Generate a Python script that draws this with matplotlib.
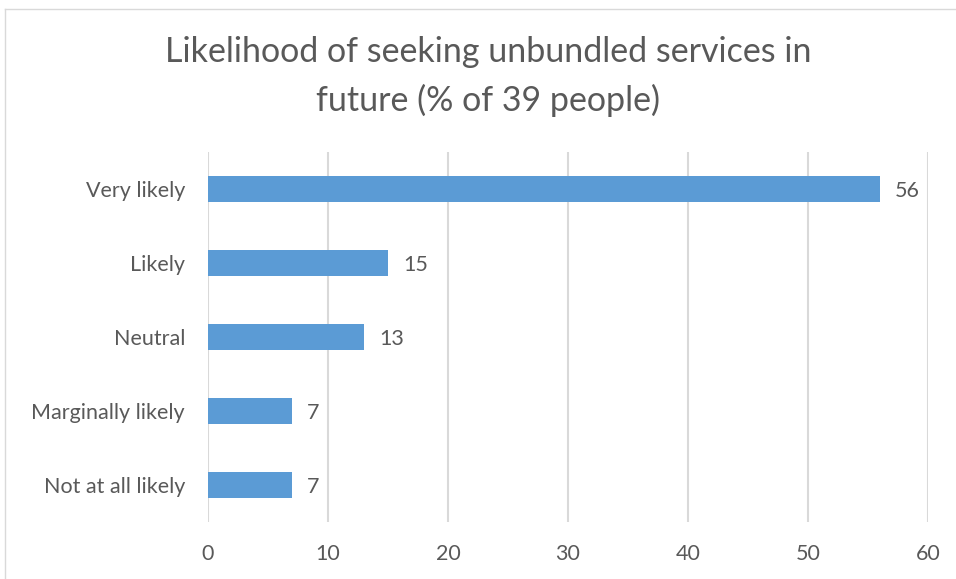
import matplotlib
matplotlib.use("Agg")
import matplotlib.pyplot as plt
from matplotlib.lines import Line2D

categories = ["Very likely", "Likely", "Neutral", "Marginally likely", "Not at all likely"]
values = [56, 15, 13, 7, 7]
xticks = [0, 10, 20, 30, 40, 50, 60]

plt.rcParams['font.family'] = ['Lato', 'DejaVu Sans']
W, H = 956, 579
fig = plt.figure(figsize=(W/100, H/100), dpi=100)
txt = '#595959'

ax = fig.add_axes([208/W, 1-522/H, (928-208)/W, (522-152)/H])
ypos = list(range(len(categories)))
ax.barh(ypos, values, height=0.34, color='#5B9BD5', zorder=3)
ax.set_ylim(len(categories)-0.5, -0.5)
ax.set_xlim(0, 60)
ax.set_yticks(ypos)
ax.set_yticklabels(categories, fontsize=15.5, color=txt)
ax.set_xticks(xticks)
ax.set_xticklabels([str(t) for t in xticks], fontsize=15.5, color=txt)
ax.tick_params(axis='both', length=0)
ax.tick_params(axis='y', pad=16.5)
ax.tick_params(axis='x', pad=16)
ax.grid(axis='x', color='#D9D9D9', linewidth=1.5, zorder=0)
for s in ax.spines.values():
    s.set_visible(False)
for y, v in zip(ypos, values):
    ax.annotate(str(v), (v, y), xytext=(11, 0), textcoords='offset points',
                va='center_baseline', ha='left', fontsize=15.5, color=txt)

fig.text(488/W, 1-52/H, "Likelihood of seeking unbundled services in", ha='center', va='center',
         fontsize=24.5, color=txt)
fig.text(488/W, 1-100/H, "future (% of 39 people)", ha='center', va='center',
         fontsize=24.5, color=txt)

fig.add_artist(Line2D([5/W, 1], [1-9/H, 1-9/H], transform=fig.transFigure, color='#D9D9D9', lw=1))
fig.add_artist(Line2D([5/W, 5/W], [1-9/H, 0], transform=fig.transFigure, color='#D9D9D9', lw=1))

fig.savefig("out.png", dpi=100)
